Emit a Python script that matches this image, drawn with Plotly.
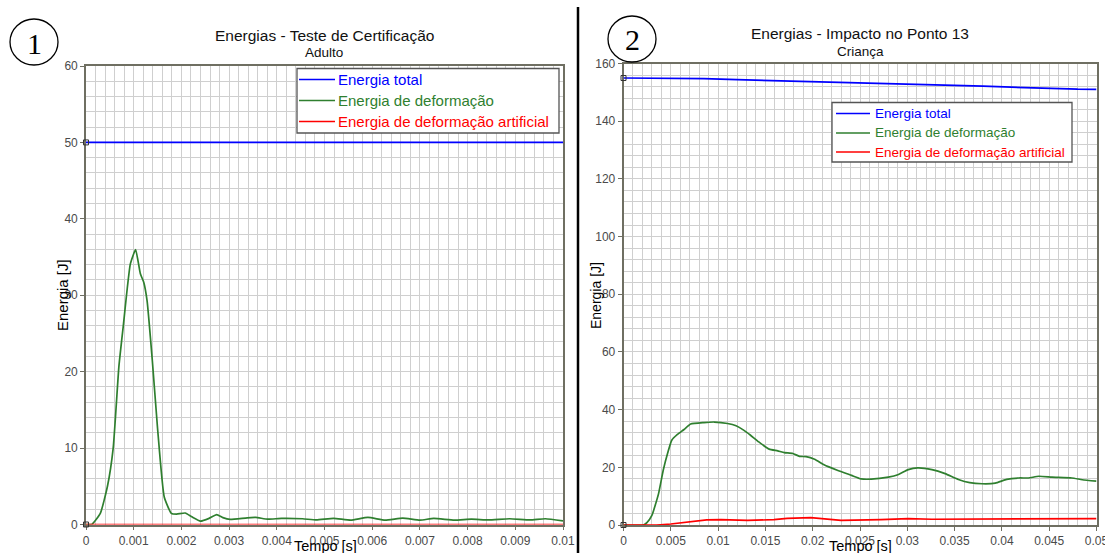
import plotly.graph_objects as go

# ---------------- data ----------------
# Panel 1 : Adulto
t1_total = [0.0, 0.01]
e1_total = [50.0, 50.0]

t1_def = [0.0, 0.00012, 0.0003, 0.00045, 0.00057, 0.00069, 0.00078, 0.00093, 0.00104,
          0.00114, 0.00121, 0.00128, 0.00139, 0.0015, 0.00164, 0.00179, 0.0019, 0.00208,
          0.00222, 0.0024, 0.00258, 0.00274, 0.00287, 0.00302, 0.00338, 0.00356, 0.00381,
          0.0041, 0.00454, 0.00483, 0.00519, 0.00555, 0.00591, 0.00627, 0.00664, 0.007,
          0.00729, 0.00772, 0.00808, 0.00844, 0.00888, 0.00931, 0.00963, 0.01]
e1_def = [0.0, 0.0, 1.45, 5.0, 10.0, 20.7, 25.9, 34.1, 35.96,
          32.8, 31.7, 29.3, 21.5, 12.6, 3.6, 1.45, 1.36, 1.5,
          1.0, 0.44, 0.8, 1.3, 0.9, 0.66, 0.88, 0.92, 0.7,
          0.8, 0.75, 0.6, 0.8, 0.57, 0.92, 0.57, 0.83, 0.57,
          0.8, 0.57, 0.7, 0.6, 0.75, 0.6, 0.75, 0.48]

t1_art = [0.0, 0.01]
e1_art = [0.0, 0.0]

# Panel 2 : Criança
t2_total = [0.0, 0.005, 0.0085, 0.012, 0.016, 0.022, 0.0265, 0.031, 0.035, 0.038,
            0.041, 0.044, 0.048, 0.05]
e2_total = [154.97, 154.95, 154.74, 154.39, 154.04, 153.68, 153.33, 152.98, 152.5, 152.16,
            151.8, 151.46, 151.1, 151.05]

t2_def = [0.0, 0.0021, 0.0025, 0.003, 0.0037, 0.0042, 0.0047, 0.0051, 0.0057, 0.0064,
          0.0071, 0.0085, 0.0096, 0.011, 0.0119, 0.0127, 0.0134, 0.0143, 0.0154, 0.0163,
          0.017, 0.0179, 0.0186, 0.0193, 0.0202, 0.0212, 0.0226, 0.0241, 0.0251, 0.0262,
          0.028, 0.029, 0.0301, 0.0311, 0.0326, 0.034, 0.0354, 0.0366, 0.0379, 0.0393,
          0.0405, 0.0418, 0.0428, 0.0439, 0.0453, 0.0474, 0.0485, 0.05]
e2_def = [0.0, 0.0, 0.9, 3.3, 10.8, 19.0, 25.3, 29.4, 31.4, 33.1,
          35.0, 35.5, 35.7, 35.2, 34.4, 32.9, 31.2, 28.8, 26.3, 25.7,
          25.1, 24.8, 23.8, 23.7, 22.8, 20.9, 19.0, 17.2, 16.0, 15.9,
          16.6, 17.4, 19.2, 19.8, 19.2, 17.8, 15.8, 14.7, 14.3, 14.5,
          15.8, 16.3, 16.3, 16.9, 16.6, 16.3, 15.7, 15.2]

t2_art = [0.0, 0.0035, 0.005, 0.006, 0.0074, 0.0088, 0.0103, 0.0131, 0.0159, 0.0173,
          0.0198, 0.0212, 0.023, 0.0272, 0.0301, 0.0326, 0.0407, 0.05]
e2_art = [0.0, 0.0, 0.35, 0.7, 1.3, 1.75, 1.86, 1.6, 1.86, 2.3,
          2.56, 2.1, 1.6, 1.86, 2.2, 2.0, 2.2, 2.2]

series_names = ["Energia total", "Energia de deformação", "Energia de deformação artificial"]

x1_ticks = [0, 0.001, 0.002, 0.003, 0.004, 0.005, 0.006, 0.007, 0.008, 0.009, 0.01]
x1_ticktext = ["0", "0.001", "0.002", "0.003", "0.004", "0.005", "0.006", "0.007", "0.008", "0.009", "0.01"]
y1_ticks = [0, 10, 20, 30, 40, 50, 60]
x2_ticks = [0, 0.005, 0.01, 0.015, 0.02, 0.025, 0.03, 0.035, 0.04, 0.045, 0.05]
x2_ticktext = ["0", "0.005", "0.01", "0.015", "0.02", "0.025", "0.03", "0.035", "0.04", "0.045", "0.05"]
y2_ticks = [0, 20, 40, 60, 80, 100, 120, 140, 160]

titles = ["Energias - Teste de Certificação", "Energias - Impacto no Ponto 13"]
subtitles = ["Adulto", "Criança"]

# ---------------- styling ----------------
W, H = 1105, 553
BLUE, GREEN, RED = "#0000ff", "#2f7f2f", "#ff0000"
colors = [BLUE, GREEN, RED]
shapes_line = ["linear", "spline", "linear"]
FONT = "Liberation Sans"
GRID = "#cfcfcf"
AXC = "#6f6f62"

def px(x):
    return x / W

def py(y):
    return 1 - y / H

fig = go.Figure()

def add_panel(data, xa, ya):
    for (t, e), c, shp in zip(data, colors, shapes_line):
        fig.add_trace(go.Scatter(x=t, y=e, mode="lines",
                                 line=dict(color=c, width=1.7, shape=shp, smoothing=0.45),
                                 xaxis=xa, yaxis=ya, showlegend=False, hoverinfo="skip"))
    # small start markers
    fig.add_trace(go.Scatter(x=[data[0][0][0], data[1][0][0]], y=[data[0][1][0], data[1][1][0]],
                             mode="markers",
                             marker=dict(symbol="square-open", size=5, color="#333",
                                         line=dict(width=1)),
                             xaxis=xa, yaxis=ya, showlegend=False, hoverinfo="skip",
                             cliponaxis=False))

add_panel([(t1_total, e1_total), (t1_def, e1_def), (t1_art, e1_art)], "x", "y")
add_panel([(t2_total, e2_total), (t2_def, e2_def), (t2_art, e2_art)], "x2", "y2")

tickfont = dict(family=FONT, size=12, color="#4a4a4a")

def axis(domain, rng, tickvals, ticktext, minor_dtick, anchor):
    return dict(domain=domain, range=rng, tickvals=tickvals, ticktext=ticktext,
                automargin=False, ticklabeloverflow="allow",
                showgrid=True, gridcolor=GRID, gridwidth=1.4,
                minor=dict(dtick=minor_dtick, showgrid=True, gridcolor=GRID, gridwidth=1.4,
                           ticks=""),
                showline=True, linecolor=AXC, linewidth=1.6, mirror=True,
                ticks="outside", ticklen=4, tickcolor=AXC, tickwidth=1,
                tickfont=tickfont, zeroline=False, anchor=anchor, layer="below traces",
                fixedrange=True)

fig.update_layout(
    width=W, height=H, autosize=False,
    margin=dict(l=0, r=0, t=0, b=0, pad=0),
    paper_bgcolor="white", plot_bgcolor="white",
    xaxis=axis([px(86), px(563)], [0, 0.01], x1_ticks, x1_ticktext, 0.0002, "y"),
    yaxis=axis([py(524.5), py(66)], [0, 60], y1_ticks, [str(v) for v in y1_ticks], 2, "x"),
    xaxis2=axis([px(623.5), px(1096.5)], [0, 0.05], x2_ticks, x2_ticktext, 0.001, "y2"),
    yaxis2=axis([py(525), py(63.5)], [0, 160], y2_ticks, [str(v) for v in y2_ticks], 4, "x2"),
)

shapes = []
annotations = []

def text(x, y, s, size, color="#111", angle=0, family=FONT, xanchor="center"):
    annotations.append(dict(x=px(x), y=py(y), xref="paper", yref="paper", text=s,
                            showarrow=False, textangle=angle, xanchor=xanchor, yanchor="middle",
                            font=dict(family=family, size=size, color=color)))

# titles
text(324, 35, titles[0], 15.5)
text(324, 52, subtitles[0], 13.5)
text(860, 34, titles[1], 15.5)
text(860, 51, subtitles[1], 13.5)

# axis titles
text(62, 295, "Energia [J]", 15, color="#000", angle=-90)
text(596, 296, "Energia [J]", 14, color="#000", angle=-90)
text(325, 546, "Tempo [s]", 14.5, color="#000")
text(860, 546, "Tempo [s]", 14.5, color="#000")

# circled numbers
for cx, cy, lab in [(34, 42, "1"), (632, 39, "2")]:
    shapes.append(dict(type="circle", xref="paper", yref="paper",
                       x0=px(cx - 24), x1=px(cx + 24), y0=py(cy + 23), y1=py(cy - 23),
                       line=dict(color="#000", width=1.3)))
    text(cx, cy + 1, lab, 30, color="#000", family="Liberation Serif")

# separator
shapes.append(dict(type="line", xref="paper", yref="paper", x0=px(578), x1=px(578),
                   y0=py(7), y1=py(553), line=dict(color="#000", width=2.5)))

# legends (manual)
def legend(x0, x1, y0, y1, lx0, lx1, tx, rows, size):
    shapes.append(dict(type="rect", xref="paper", yref="paper", x0=px(x0), x1=px(x1),
                       y0=py(y1), y1=py(y0), fillcolor="white",
                       line=dict(color="#555", width=1.3), layer="above"))
    for name, c, ry in zip(series_names, colors, rows):
        shapes.append(dict(type="line", xref="paper", yref="paper", x0=px(lx0), x1=px(lx1),
                           y0=py(ry), y1=py(ry), line=dict(color=c, width=1.7), layer="above"))
        text(tx, ry, name, size, color=c, xanchor="left")

legend(297, 559, 68.5, 133, 299, 335, 336, [79.5, 100.5, 121.5], 15)
legend(832, 1072, 102.5, 162, 836, 870, 873, [113.5, 133, 152], 13.5)

fig.update_layout(shapes=shapes, annotations=annotations)
fig.write_html(
    "out.html",
    config={"responsive": False, "displayModeBar": False},
    post_script="document.documentElement.style.margin='0';"
                "document.body.style.margin='0';document.body.style.padding='0';"
                "document.body.style.overflow='hidden';",
)
